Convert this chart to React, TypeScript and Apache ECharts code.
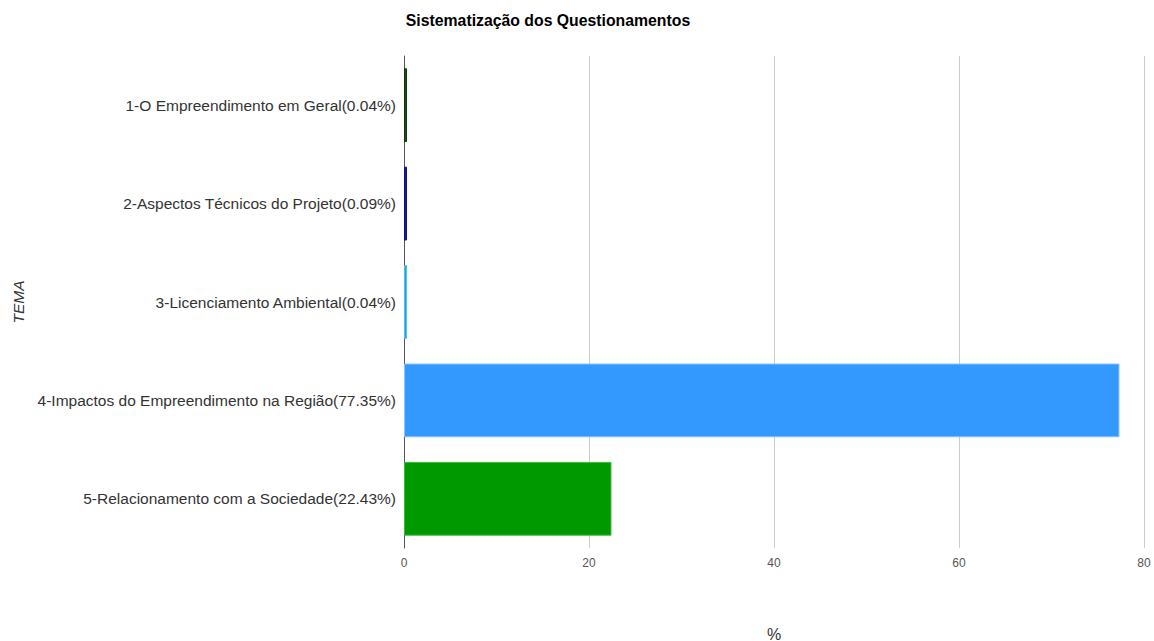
import React, { useEffect, useRef } from "react";
import * as echarts from "echarts";

const categories = [
  "1-O Empreendimento em Geral(0.04%)",
  "2-Aspectos Técnicos do Projeto(0.09%)",
  "3-Licenciamento Ambiental(0.04%)",
  "4-Impactos do Empreendimento na Região(77.35%)",
  "5-Relacionamento com a Sociedade(22.43%)",
];
const values = [0.04, 0.09, 0.04, 77.35, 22.43];
const colors = ["#1a4a1a", "#1a1aa0", "#1aa6e6", "#3399ff", "#009900"];
const borderColors = ["#0f3a0f", "#10107e", "#50c0f0", "#8cc4ff", "#40b840"];
const xTicks = [0, 20, 40, 60, 80];

export default function App() {
  const ref = useRef<HTMLDivElement>(null);
  useEffect(() => {
    const chart = echarts.init(ref.current!, null, { renderer: "svg" });
    chart.setOption({
      animation: false,
      title: {
        text: "Sistematização dos Questionamentos",
        left: 543,
        top: 7,
        textAlign: "center",
        textStyle: { fontFamily: "Liberation Sans, Arial", fontSize: 15.8, fontWeight: "bold", color: "#000" },
      },
      grid: { left: 404, right: 10, top: 56, bottom: 93, containLabel: false, outerBoundsMode: "none" },
      xAxis: {
        type: "value",
        min: xTicks[0],
        max: xTicks[xTicks.length - 1],
        interval: 20,
        name: "%",
        nameLocation: "middle",
        nameGap: 78,
        nameTextStyle: { fontFamily: "Liberation Sans, Arial", fontSize: 16, color: "#333" },
        axisLine: { show: false },
        axisTick: { show: false },
        axisLabel: { fontFamily: "Liberation Sans, Arial", fontSize: 12, color: "#555", margin: 9 },
        splitLine: { lineStyle: { color: "#cccccc" } },
      },
      yAxis: {
        type: "category",
        inverse: true,
        data: categories,
        name: "TEMA",
        nameLocation: "middle",
        nameGap: 378,
        nameRotate: 90,
        nameTextStyle: { fontFamily: "Liberation Sans, Arial", fontSize: 15.5, fontStyle: "italic", color: "#333" },
        axisLine: { show: true, lineStyle: { color: "#555" } },
        axisTick: { show: false },
        axisLabel: { fontFamily: "Liberation Sans, Arial", fontSize: 15.5, color: "#333", margin: 8 },
      },
      series: [
        {
          type: "bar",
          barWidth: "75%",
          barMinHeight: 3,
          data: values.map((v, i) => ({
            value: v,
            itemStyle: { color: colors[i], borderColor: borderColors[i], borderWidth: 1 },
          })),
        },
      ],
    });
    return () => chart.dispose();
  }, []);
  return (
    <div
      ref={ref}
      style={{ position: "fixed", left: 0, top: 0, width: 1154, height: 641, background: "#fff" }}
    />
  );
}
